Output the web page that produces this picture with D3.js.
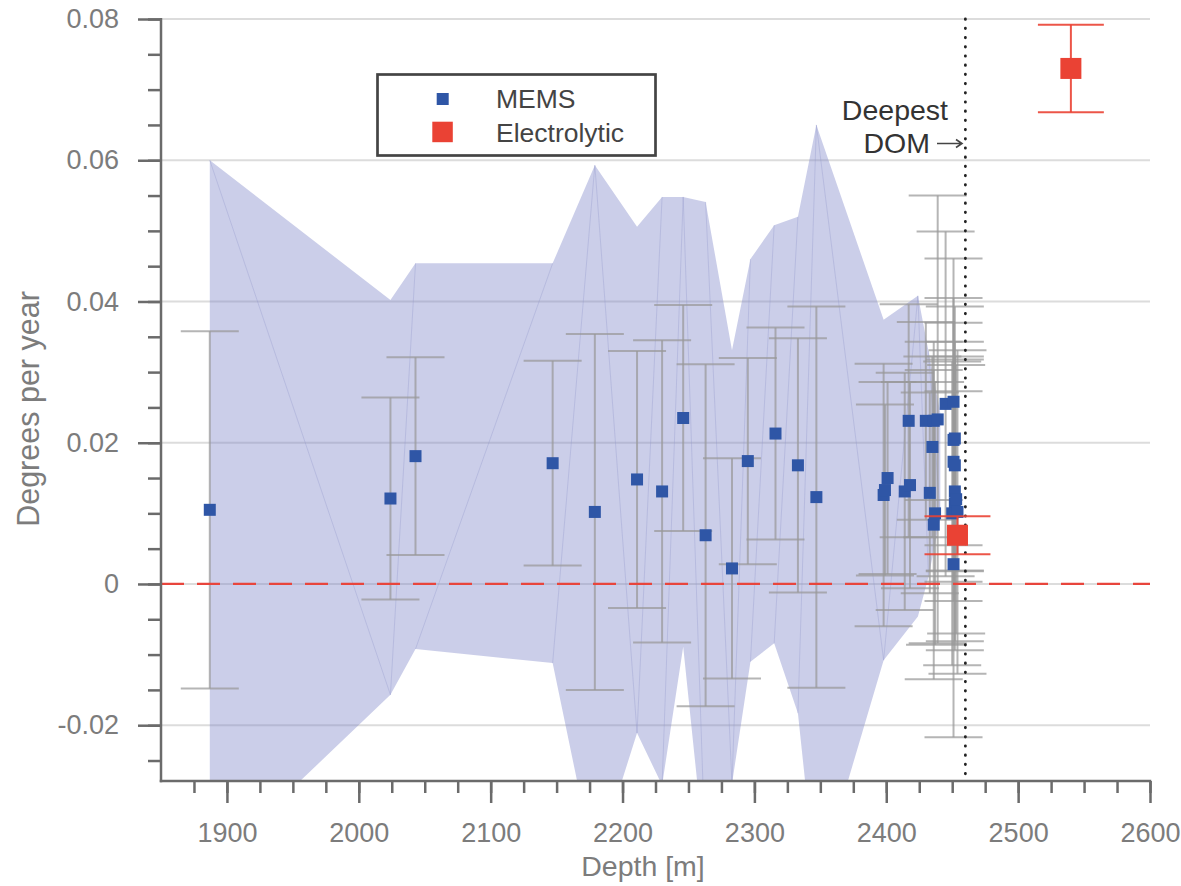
<!DOCTYPE html>
<html>
<head>
<meta charset="utf-8">
<script src="https://cdn.jsdelivr.net/npm/d3@7/dist/d3.min.js"></script>
<style>
  html, body { margin: 0; padding: 0; background: #fff; }
  svg { display: block; }
  text { font-family: "Liberation Sans", Arial, Helvetica, sans-serif; }
</style>
</head>
<body>
<svg id="chart" width="1181" height="886"></svg>
<script>
// ---------------- DATA ----------------
const memsDepth = [1887, 2024, 2043, 2147, 2179, 2211, 2230, 2246, 2263, 2283, 2295, 2316, 2333, 2347,
  2398, 2399, 2401, 2414, 2418, 2417, 2430, 2433, 2435, 2436, 2436, 2437, 2439, 2445,
  2451, 2451, 2452, 2451, 2452, 2452, 2450, 2454, 2451, 2452, 2453];
const memsValue = [0.0105, 0.0121, 0.0181, 0.0171, 0.0102, 0.0148, 0.0131, 0.0235, 0.0069, 0.0022, 0.0174, 0.0213, 0.0168, 0.0123,
  0.0126, 0.0133, 0.0150, 0.0131, 0.0140, 0.0231, 0.0231, 0.0129, 0.0194, 0.0231, 0.0084, 0.0100, 0.0233, 0.0255,
  0.0258, 0.0204, 0.0206, 0.0173, 0.0131, 0.0114, 0.0100, 0.0102, 0.0028, 0.0168, 0.0120];
const memsErr = [0.0253, 0.0143, 0.0140, 0.0145, 0.0252, 0.0182, 0.0214, 0.0160, 0.0242, 0.0156, 0.0146, 0.0150, 0.0180, 0.0270,
  0.0186, 0.0121, 0.0136, 0.0168, 0.0146, 0.0165, 0.0140, 0.0142, 0.0128, 0.0112, 0.0219, 0.0186, 0.0317, 0.0244,
  0.0203, 0.0201, 0.0187, 0.0197, 0.0212, 0.0208, 0.0215, 0.0229, 0.0245, 0.0150, 0.0190];
const memsDepthErr = 22;

const elecDepth = [2454, 2540];
const elecValue = [0.0069, 0.0730];
const elecErr = [0.0027, 0.0062];
const elecDepthErr = 25;

const bandDepth = [1887, 2024, 2043, 2147, 2179, 2211, 2230, 2246, 2263, 2283, 2297, 2315, 2333, 2347, 2398, 2424, 2432, 2441];
const bandUpper = [0.0600, 0.0402, 0.0454, 0.0454, 0.0593, 0.0506, 0.0548, 0.0548, 0.0541, 0.0331, 0.0460, 0.0508, 0.0520, 0.0650, 0.0374, 0.0408, 0.0330, 0.0242];
const bandLower = [-0.0401, -0.0157, -0.0092, -0.0112, -0.0400, -0.0211, -0.0285, -0.0089, -0.0395, -0.0283, -0.0110, -0.0084, -0.0183, -0.0430, -0.0108, -0.0046, 0.0010, 0.0095];

const deepestDomDepth = 2460;

const xMajorTicks = [1900, 2000, 2100, 2200, 2300, 2400, 2500, 2600];
const xTickLabels = ["1900", "2000", "2100", "2200", "2300", "2400", "2500", "2600"];
const xMinorTicks = [1875, 1900, 1925, 1950, 1975, 2000, 2025, 2050, 2075, 2100, 2125, 2150, 2175, 2200, 2225, 2250,
  2275, 2300, 2325, 2350, 2375, 2400, 2425, 2450, 2475, 2500, 2525, 2550, 2575, 2600];
const yMajorTicks = [-0.02, 0, 0.02, 0.04, 0.06, 0.08];
const yTickLabels = ["-0.02", "0", "0.02", "0.04", "0.06", "0.08"];
const yMinorTicks = [-0.025, -0.02, -0.015, -0.01, -0.005, 0, 0.005, 0.01, 0.015, 0.02, 0.025, 0.03, 0.035, 0.04,
  0.045, 0.05, 0.055, 0.06, 0.065, 0.07, 0.075, 0.08];

const legendLabels = ["MEMS", "Electrolytic"];

// ---------------- LAYOUT ----------------
const L = 161, R = 1150, T = 19, B = 781;
const svg = d3.select("#chart");
const x = d3.scaleLinear().domain([1850, 2600]).range([L, R]);
const y = d3.scaleLinear().domain([-0.0279, 0.08]).range([B, T]);

const axisColor = "#6b6b6b";
const tickTextColor = "#7c7c7c";
const blue = "#2f56a6";
const red = "#ea4234";

svg.append("defs").append("clipPath").attr("id", "plotclip")
  .append("rect").attr("x", L).attr("y", T).attr("width", R - L).attr("height", B - T);

// gridlines
svg.append("g").selectAll("line").data(yMajorTicks).join("line")
  .attr("x1", L).attr("x2", R)
  .attr("y1", d => y(d)).attr("y2", d => y(d))
  .attr("stroke", "#dcdcdc").attr("stroke-width", 2);

// band
const bandData = bandDepth.map((d, i) => ({ d, u: bandUpper[i], l: bandLower[i] }));
const area = d3.area().x(p => x(p.d)).y0(p => y(p.l)).y1(p => y(p.u));
const plot = svg.append("g").attr("clip-path", "url(#plotclip)");
plot.append("path").datum(bandData).attr("d", area)
  .attr("fill", "#7c84c8").attr("fill-opacity", 0.4);

// seams of the band
const seams = [];
for (let i = 0; i < bandData.length - 1; i++) {
  const a = bandData[i], b = bandData[i + 1];
  if (b.u >= a.u) seams.push([a.d, a.l, b.d, b.u]);
  else seams.push([a.d, a.u, b.d, b.l]);
}
plot.append("g").selectAll("line").data(seams).join("line")
  .attr("x1", s => x(s[0])).attr("y1", s => y(s[1]))
  .attr("x2", s => x(s[2])).attr("y2", s => y(s[3]))
  .attr("stroke", "#9298cc").attr("stroke-opacity", 0.35).attr("stroke-width", 1);

// MEMS error bars
const mems = memsDepth.map((d, i) => ({ d, v: memsValue[i], e: memsErr[i] }));
const eb = plot.append("g").attr("stroke", "#999").attr("stroke-opacity", 0.72).attr("stroke-width", 2);
eb.selectAll("line.v").data(mems).join("line").attr("class", "v")
  .attr("x1", p => x(p.d)).attr("x2", p => x(p.d))
  .attr("y1", p => y(p.v - p.e)).attr("y2", p => y(p.v + p.e));
eb.selectAll("line.cu").data(mems).join("line").attr("class", "cu")
  .attr("x1", p => x(p.d - memsDepthErr)).attr("x2", p => x(p.d + memsDepthErr))
  .attr("y1", p => y(p.v + p.e)).attr("y2", p => y(p.v + p.e));
eb.selectAll("line.cl").data(mems).join("line").attr("class", "cl")
  .attr("x1", p => x(p.d - memsDepthErr)).attr("x2", p => x(p.d + memsDepthErr))
  .attr("y1", p => y(p.v - p.e)).attr("y2", p => y(p.v - p.e));

// zero line
svg.append("line")
  .attr("x1", L).attr("x2", R).attr("y1", y(0)).attr("y2", y(0))
  .attr("stroke", "#e8453c").attr("stroke-width", 2.2).attr("stroke-dasharray", "23 13");

// deepest DOM line
svg.append("line")
  .attr("x1", x(deepestDomDepth)).attr("x2", x(deepestDomDepth)).attr("y1", T).attr("y2", B)
  .attr("stroke", "#222").attr("stroke-width", 2.8)
  .attr("stroke-linecap", "round").attr("stroke-dasharray", "0.4 8.8");

// MEMS squares
const ms = 12;
plot.append("g").selectAll("rect").data(mems).join("rect")
  .attr("x", p => x(p.d) - ms / 2).attr("y", p => y(p.v) - ms / 2)
  .attr("width", ms).attr("height", ms).attr("fill", blue);

// Electrolytic
const elec = elecDepth.map((d, i) => ({ d, v: elecValue[i], e: elecErr[i] }));
const er = svg.append("g").attr("stroke", red).attr("stroke-opacity", 0.9).attr("stroke-width", 2);
er.selectAll("line.v").data(elec).join("line").attr("class", "v")
  .attr("x1", p => x(p.d)).attr("x2", p => x(p.d))
  .attr("y1", p => y(p.v - p.e)).attr("y2", p => y(p.v + p.e));
er.selectAll("line.cu").data(elec).join("line").attr("class", "cu")
  .attr("x1", p => x(p.d - elecDepthErr)).attr("x2", p => x(p.d + elecDepthErr))
  .attr("y1", p => y(p.v + p.e)).attr("y2", p => y(p.v + p.e));
er.selectAll("line.cl").data(elec).join("line").attr("class", "cl")
  .attr("x1", p => x(p.d - elecDepthErr)).attr("x2", p => x(p.d + elecDepthErr))
  .attr("y1", p => y(p.v - p.e)).attr("y2", p => y(p.v - p.e));
const es = 21;
svg.append("g").selectAll("rect").data(elec).join("rect")
  .attr("x", p => x(p.d) - es / 2).attr("y", p => y(p.v) - es / 2)
  .attr("width", es).attr("height", es).attr("fill", red);

// ---------------- AXES ----------------
function styleAxis(g) {
  g.select(".domain").remove();
  g.selectAll(".tick line").attr("stroke", axisColor).attr("stroke-width", 2.5);
  g.selectAll(".tick text").attr("fill", tickTextColor).attr("font-size", 27)
    .attr("font-family", "'Liberation Sans', Arial, sans-serif");
}
// minor
svg.append("g").attr("transform", `translate(0,${B})`)
  .call(d3.axisBottom(x).tickValues(xMinorTicks).tickSize(12).tickFormat(""))
  .call(styleAxis);
svg.append("g").attr("transform", `translate(${L},0)`)
  .call(d3.axisLeft(y).tickValues(yMinorTicks).tickSize(13).tickFormat(""))
  .call(styleAxis);
// major
svg.append("g").attr("transform", `translate(0,${B})`)
  .call(d3.axisBottom(x).tickValues(xMajorTicks).tickSize(22).tickPadding(20)
    .tickFormat((d, i) => xTickLabels[i]))
  .call(styleAxis);
svg.append("g").attr("transform", `translate(${L},0)`)
  .call(d3.axisLeft(y).tickValues(yMajorTicks).tickSize(23).tickPadding(19)
    .tickFormat((d, i) => yTickLabels[i]))
  .call(styleAxis);
// spines
svg.append("line").attr("x1", L).attr("x2", L).attr("y1", T - 1).attr("y2", B + 1.25)
  .attr("stroke", axisColor).attr("stroke-width", 2.5);
svg.append("line").attr("x1", L - 1.25).attr("x2", R + 1.25).attr("y1", B).attr("y2", B)
  .attr("stroke", axisColor).attr("stroke-width", 2.5);

// axis titles
svg.append("text").attr("x", 643).attr("y", 876).attr("text-anchor", "middle")
  .attr("font-size", 28.5).attr("fill", "#7c7c7c").text("Depth [m]");
svg.append("text").attr("transform", "translate(38.5,409) rotate(-90)").attr("text-anchor", "middle")
  .attr("font-size", 30.5).attr("fill", "#7c7c7c").text("Degrees per year");

// Deepest DOM annotation
svg.append("text").attr("x", 948).attr("y", 120).attr("text-anchor", "end")
  .attr("font-size", 28.5).attr("fill", "#333").text("Deepest");
svg.append("text").attr("x", 930).attr("y", 153).attr("text-anchor", "end")
  .attr("font-size", 28.5).attr("fill", "#333").text("DOM");
svg.append("path")
  .attr("d", "M937,143.5 H962 M956,139.5 L962,143.5 L956,147.5")
  .attr("fill", "none").attr("stroke", "#444").attr("stroke-width", 1.6);

// legend
const lg = svg.append("g");
lg.append("rect").attr("x", 377.5).attr("y", 74.5).attr("width", 278).attr("height", 81)
  .attr("fill", "#fff").attr("stroke", "#444").attr("stroke-width", 2.7);
lg.append("rect").attr("x", 436.7).attr("y", 93).attr("width", 12).attr("height", 12).attr("fill", blue);
lg.append("rect").attr("x", 432.3).attr("y", 121.7).attr("width", 20.5).attr("height", 20.5).attr("fill", red);
lg.append("text").attr("x", 496).attr("y", 108.3).attr("font-size", 26.5).attr("fill", "#444").text(legendLabels[0]);
lg.append("text").attr("x", 496).attr("y", 141.7).attr("font-size", 26.5).attr("fill", "#444").text(legendLabels[1]);
</script>
</body>
</html>
